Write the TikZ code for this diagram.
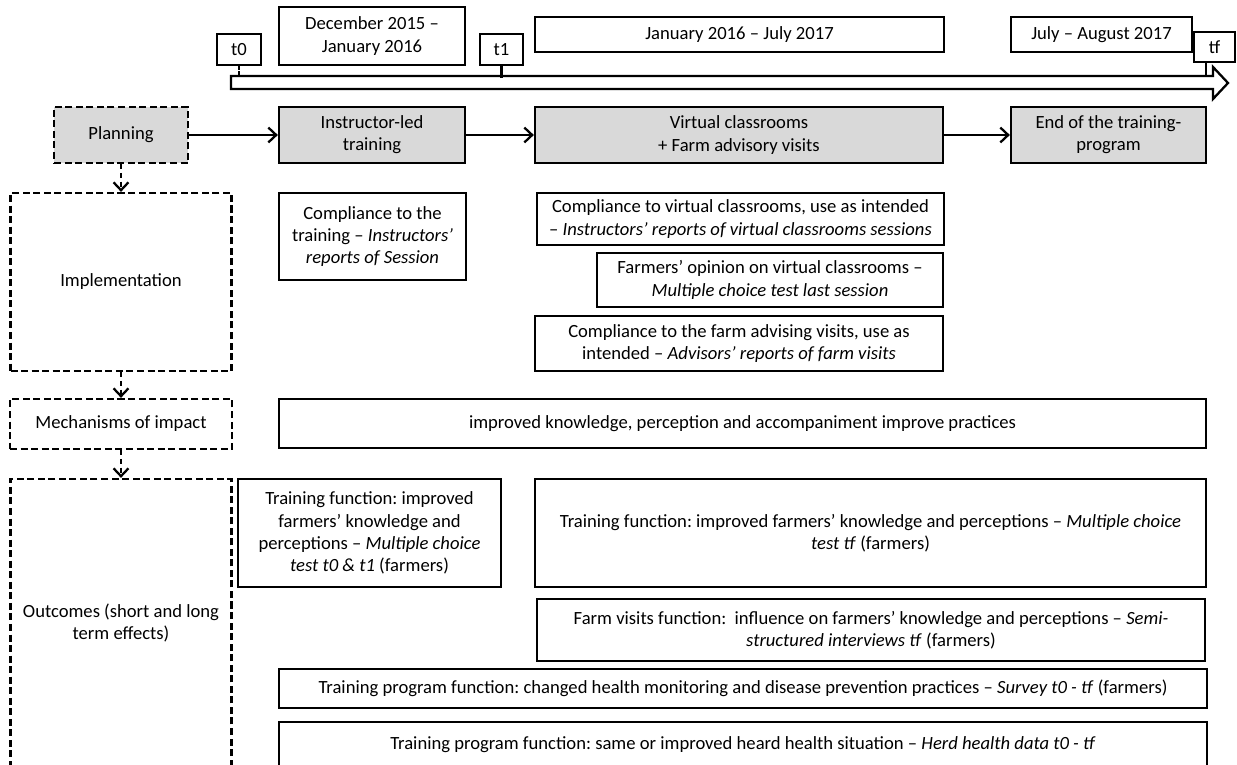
\documentclass[tikz,border=0pt]{standalone}
\usepackage{fontspec}
\setmainfont{Carlito}
\usepackage{xcolor}
\usetikzlibrary{arrows.meta}
\definecolor{boxgrey}{HTML}{D9D9D9}
\newcommand{\boxfont}{\fontsize{10.6}{12.6}\selectfont\frenchspacing}
\tikzset{
  box/.style={draw, line width=1.3pt, inner sep=0pt, align=center, font=\boxfont},
  greybox/.style={box, fill=boxgrey},
  dashbox/.style={box, dash pattern=on 4pt off 2pt},
  wh/.style 2 args={minimum width=#1*0.02cm, minimum height=#2*0.02cm},
  conn/.style={-{Straight Barb[length=4.5pt,width=8.5pt]}, line width=1.3pt},
  dconn/.style={conn, dash pattern=on 3pt off 2pt},
}

\begin{document}
\begin{tikzpicture}[x=0.02cm, y=-0.02cm]
\clip (0,0) rectangle (1237,764);
\fill[white] (0,0) rectangle (1237,764);

% Linha do tempo
\draw[line width=1.3pt] (231,76) -- (1213,76) -- (1213,67) -- (1228,83)
  -- (1213,99) -- (1213,89) -- (231,89) -- cycle;
\coordinate (ttop) at (0,76);

\node[box, wh={44}{31}] (t0) at (239,49.5) {t0};
\node[box, wh={186}{58}] (dec) at (372,36) {December 2015 --\\ January 2016};
\node[box, wh={43}{31}] (t1) at (501.5,49.5) {t1};
\node[box, wh={409}{35}] (jan) at (739.5,34.5) {January 2016 -- July 2017};
\node[box, wh={181}{35}] (jul) at (1101.5,34.5) {July -- August 2017};
\node[box, wh={41}{30}] (tf) at (1214.5,47) {tf};

\draw[line width=1.3pt, dash pattern=on 2pt off 1pt] (t0.south) -- (t0.south |- ttop);
\draw[line width=1.3pt] (t1.south) -- ([yshift=-1pt]t1.south |- ttop);
\draw[line width=1.3pt] (tf.south -| 1206,0) -- (1206,76);

% Etapas
\node[greybox, dash pattern=on 4pt off 2pt, wh={134}{56}] (plan) at (121,135) {Planning};
\node[greybox, wh={186}{56}] (instr) at (372,135) {Instructor-led\\ training};
\node[greybox, wh={408}{56}] (virt) at (739,135) {Virtual classrooms\\ + Farm advisory visits};
\node[greybox, wh={195}{56}] (endp) at (1108.5,135) {End of the training-\\ program};

\draw[conn] (plan) -- (instr);
\draw[conn] (instr) -- (virt);
\draw[conn] (virt) -- (endp);

% Coluna da esquerda
\node[dashbox, wh={221}{178}] (impl) at (121,282) {Implementation};
\node[dashbox, wh={222}{50}] (mech) at (121,424) {Mechanisms of impact};
\node[dashbox, wh={221}{288}] (outc) at (121,623) {Outcomes (short and long\\ term effects)};

\draw[dconn] (plan) -- (impl);
\draw[dconn] (impl) -- (mech);
\draw[dconn] (mech) -- (outc);

% Implementacao
\node[box, wh={187}{87}] (comp1) at (372.5,236.5)
  {Compliance to the\\ training -- \textit{Instructors’}\\ \textit{reports of Session}};
\node[box, wh={407}{52}] (comp2) at (740.5,219)
  {Compliance to virtual classrooms, use as intended\\ -- \textit{Instructors’ reports of virtual classrooms sessions}};
\node[box, wh={346}{54}] (opin) at (770,280)
  {Farmers’ opinion on virtual classrooms --\\ \textit{Multiple choice test last session}};
\node[box, wh={408}{55}] (comp3) at (739,343.5)
  {Compliance to the farm advising visits, use as\\ intended -- \textit{Advisors’ reports of farm visits}};

% Mecanismos
\node[box, wh={927}{49}] (mtext) at (742.5,423.5)
  {improved knowledge, perception and accompaniment improve practices};

% Resultados
\node[box, wh={263}{108}] (tf1) at (369.5,533)
  {Training function: improved\\ farmers’ knowledge and\\ perceptions -- \textit{Multiple choice}\\ \textit{test t0 \& t1} (farmers)};
\node[box, wh={671}{108}] (tf2) at (870.5,533)
  {Training function: improved farmers’ knowledge and perceptions -- \textit{Multiple choice}\\ \textit{test tf} (farmers)};
\node[box, wh={668}{62}] (farm) at (871,630)
  {Farm visits function:\ \ influence on farmers’ knowledge and perceptions -- \textit{Semi-}\\ \textit{structured interviews tf} (farmers)};
\node[box, wh={928}{39}] (chg) at (743,688.5)
  {Training program function: changed health monitoring and disease prevention practices -- \textit{Survey t0 - tf} (farmers)};
\node[box, wh={928}{45}] (same) at (743,744.5)
  {Training program function: same or improved heard health situation -- \textit{Herd health data t0 - tf}};

\end{tikzpicture}
\end{document}
